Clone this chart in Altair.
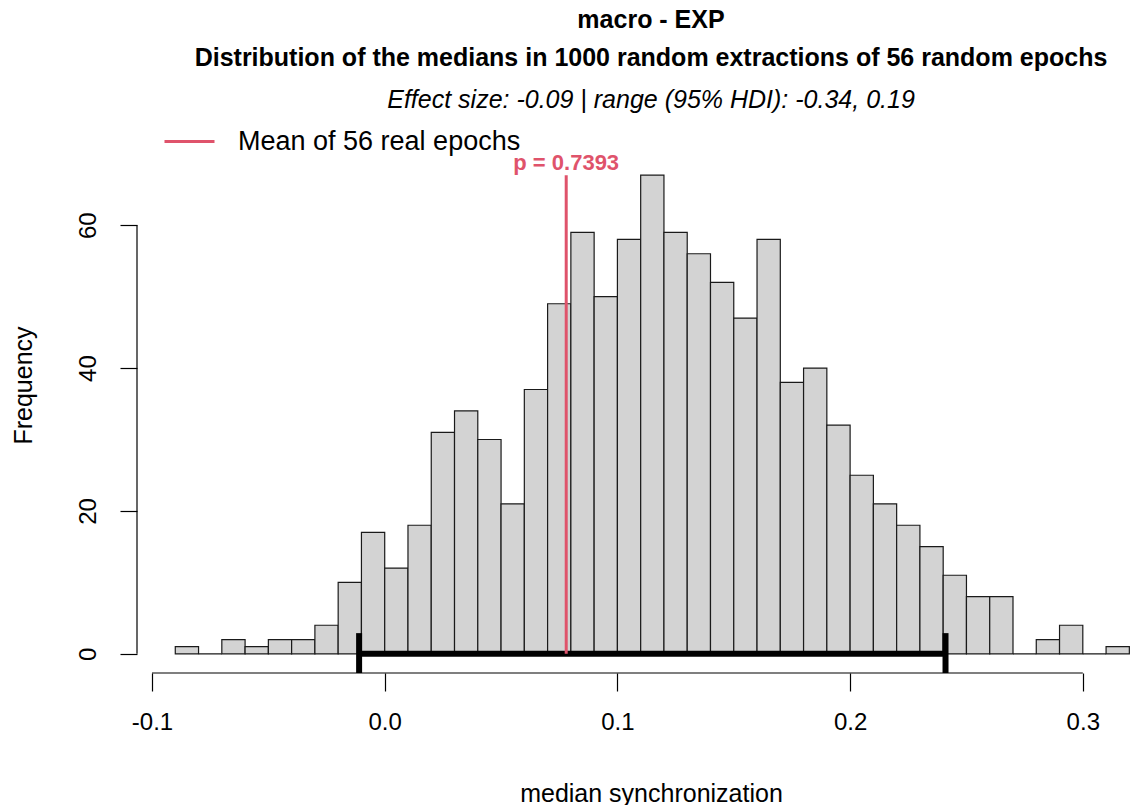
import altair as alt
import pandas as pd

# ---------------- data ----------------
bin_left = [-0.09, -0.08, -0.07, -0.06, -0.05, -0.04, -0.03, -0.02, -0.01, 0.00,
            0.01, 0.02, 0.03, 0.04, 0.05, 0.06, 0.07, 0.08, 0.09, 0.10,
            0.11, 0.12, 0.13, 0.14, 0.15, 0.16, 0.17, 0.18, 0.19, 0.20,
            0.21, 0.22, 0.23, 0.24, 0.25, 0.26, 0.27, 0.28, 0.29, 0.30, 0.31]
bin_right = [-0.08, -0.07, -0.06, -0.05, -0.04, -0.03, -0.02, -0.01, 0.00, 0.01,
             0.02, 0.03, 0.04, 0.05, 0.06, 0.07, 0.08, 0.09, 0.10, 0.11,
             0.12, 0.13, 0.14, 0.15, 0.16, 0.17, 0.18, 0.19, 0.20, 0.21,
             0.22, 0.23, 0.24, 0.25, 0.26, 0.27, 0.28, 0.29, 0.30, 0.31, 0.32]
counts = [1, 0, 2, 1, 2, 2, 4, 10, 17, 12,
          18, 31, 34, 30, 21, 37, 49, 59, 50, 58,
          67, 59, 56, 52, 47, 58, 38, 40, 32, 25,
          21, 18, 15, 11, 8, 8, 0, 2, 4, 0, 1]

x_ticks = [-0.1, 0.0, 0.1, 0.2, 0.3]
y_ticks = [0, 20, 40, 60]

real_mean = [0.078]
real_top = [67]
legend_label = ["Mean of 56 real epochs"]
p_label = ["p = 0.7393"]
hdi_low = [-0.011]
hdi_high = [0.241]

title_lines = ["macro - EXP",
               "Distribution of the medians in 1000 random extractions of 56 random epochs"]
subtitle = "Effect size: -0.09 | range (95% HDI): -0.34, 0.19"

# ---------------- layout ----------------
FONT = "Liberation Sans"
W, H = 994, 517
RED = "#DF536B"

xscale = alt.Scale(domain=[-0.10645, 0.32071], nice=False, zero=False)
yscale = alt.Scale(domain=[-2.68, 69.68], nice=False, zero=False)

xaxis = alt.Axis(values=x_ticks, format=".1f",
                 labelExpr="replace(datum.label, '\u2212', '-')",
                 domain=False, grid=False, ticks=True, tickSize=18,
                 tickColor="black", tickWidth=1.2,
                 labelFont=FONT, labelFontSize=24, labelColor="black",
                 labelPadding=19, labelFlush=False, labelOverlap=False,
                 titleFont=FONT, titleFontSize=25, titleFontWeight="normal",
                 titleColor="black", titleX=514, titleY=128,
                 titleAlign="center", titleBaseline="alphabetic")
yaxis = alt.Axis(values=y_ticks, domain=False, grid=False, ticks=True,
                 tickSize=17, tickColor="black", tickWidth=1.2,
                 labelFont=FONT, labelFontSize=24, labelColor="black",
                 labelAngle=270, labelAlign="center", labelBaseline="alphabetic",
                 labelPadding=25, labelFlush=False, labelOverlap=False,
                 titleFont=FONT, titleFontSize=25, titleFontWeight="normal",
                 titleColor="black", titleAngle=270, titleX=-114, titleY=229,
                 titleAlign="center", titleBaseline="middle")

XT = "median synchronization"
YT = "Frequency"

hist = pd.DataFrame({"left": bin_left, "right": bin_right, "count": counts,
                     "zero": [0] * len(counts)})

bars = alt.Chart(hist).mark_rect(fill="#D3D3D3", stroke="#1a1a1a",
                                 strokeWidth=1.2, clip=True).encode(
    x=alt.X("left:Q", scale=xscale, axis=xaxis, title=XT),
    x2="right:Q",
    y=alt.Y("count:Q", scale=yscale, axis=yaxis, title=YT),
    y2="zero:Q",
)

xline_df = pd.DataFrame({"a": [x_ticks[0]], "b": [x_ticks[-1]]})
xline = alt.Chart(xline_df).mark_rule(color="black", strokeWidth=1.2).encode(
    x=alt.X("a:Q", scale=xscale, axis=xaxis, title=XT),
    x2="b:Q",
    y=alt.value(H),
)

yline_df = pd.DataFrame({"a": [y_ticks[0]], "b": [y_ticks[-1]]})
yline = alt.Chart(yline_df).mark_rule(color="black", strokeWidth=1.2).encode(
    y=alt.Y("a:Q", scale=yscale, axis=yaxis, title=YT),
    y2="b:Q",
    x=alt.value(0),
)

hdi_df = pd.DataFrame({"lo": hdi_low, "hi": hdi_high, "zero": [0]})
hdi = alt.Chart(hdi_df).mark_rule(color="black", strokeWidth=6).encode(
    x=alt.X("lo:Q", scale=xscale, axis=xaxis, title=XT),
    x2="hi:Q",
    y=alt.Y("zero:Q", scale=yscale, axis=yaxis, title=YT),
)

ends_df = pd.DataFrame({"x": hdi_low + hdi_high, "y0": [-2.68, -2.68], "y1": [2.9, 2.9]})
ends = alt.Chart(ends_df).mark_rule(color="black", strokeWidth=6).encode(
    x=alt.X("x:Q", scale=xscale, axis=xaxis, title=XT),
    y=alt.Y("y0:Q", scale=yscale, axis=yaxis, title=YT),
    y2="y1:Q",
)

mean_df = pd.DataFrame({"x": real_mean, "top": real_top, "zero": [0],
                        "label": legend_label, "p": p_label})
meanline = alt.Chart(mean_df).mark_rule(strokeWidth=3).encode(
    x=alt.X("x:Q", scale=xscale, axis=xaxis, title=XT),
    y=alt.Y("top:Q", scale=yscale, axis=yaxis, title=YT),
    y2="zero:Q",
    color=alt.Color("label:N", scale=alt.Scale(range=[RED]),
                    legend=alt.Legend(title=None, orient="none",
                                      legendX=26, legendY=-41,
                                      symbolType="stroke", symbolSize=2500,
                                      symbolStrokeWidth=3,
                                      labelFont=FONT, labelFontSize=27,
                                      labelColor="black", labelOffset=22,
                                      labelLimit=600, padding=0)),
)

ptext = alt.Chart(mean_df).mark_text(color=RED, font=FONT, fontSize=22,
                                     fontWeight="bold", dy=-12,
                                     baseline="middle", align="center").encode(
    x=alt.X("x:Q", scale=xscale, axis=xaxis, title=XT),
    y=alt.Y("top:Q", scale=yscale, axis=yaxis, title=YT),
    text="p:N",
)

chart = alt.layer(bars, xline, yline, hdi, ends, meanline, ptext).properties(
    width=W, height=H,
    autosize=alt.AutoSizeParams(type="none"),
    padding={"left": 137, "top": 156, "right": 0, "bottom": 132},
    title=alt.TitleParams(text=title_lines, subtitle=subtitle,
                          font=FONT, fontSize=25, fontWeight="bold",
                          color="black", lineHeight=38,
                          subtitleFont=FONT, subtitleFontSize=25,
                          subtitleFontStyle="italic", subtitleColor="black",
                          subtitlePadding=17, anchor="middle", frame="group",
                          dx=17, offset=2),
    background="white",
).configure_view(stroke=None)

chart.save("out.html", embed_options={"renderer": "svg", "actions": False})
